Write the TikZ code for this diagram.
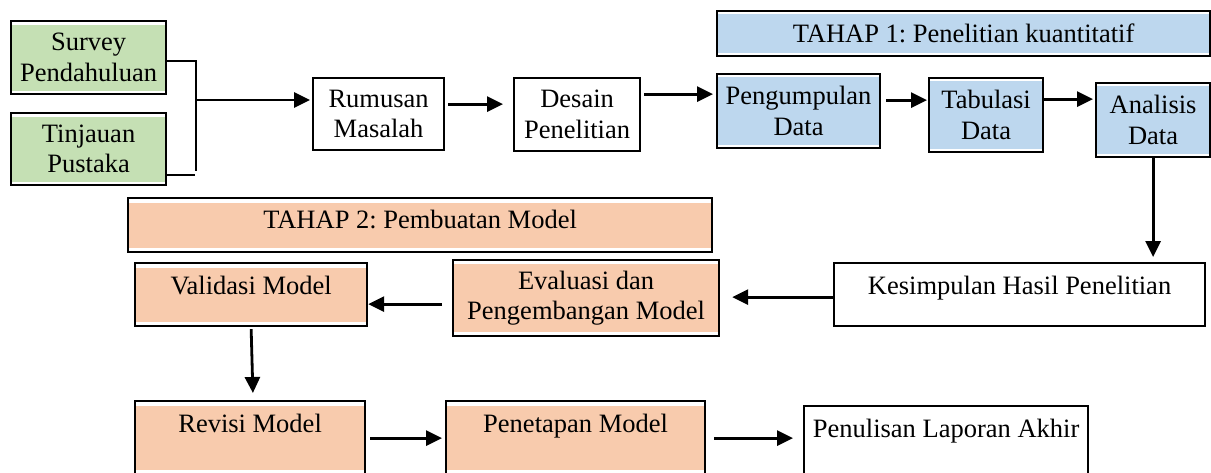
\documentclass[tikz,border=0pt]{standalone}
\usepackage{fontspec}
\setmainfont{Liberation Serif}
\frenchspacing
\usetikzlibrary{arrows.meta,calc}
\definecolor{cgreen}{HTML}{C5E0B4}
\definecolor{cblue}{HTML}{BDD7EE}
\definecolor{corange}{HTML}{F8CBAD}
\begin{document}
\begin{tikzpicture}[x=1pt,y=-1pt,
  box/.style={draw=black, line width=2.2pt, inner sep=2pt, align=center, anchor=north west,
    font=\fontsize{26.5}{30.5}\selectfont},
  fb/.style args={#1/#2}{path picture={\fill[#1] ([yshift=-#2]path picture bounding box.north west) rectangle ([yshift=#2]path picture bounding box.south east);}},
  arr/.style={line width=2.8pt, -{Triangle[length=16pt,width=15pt]}},
  brline/.style={line width=2.4pt},
]
\clip (0,0) rectangle (1211,472);
\fill[white] (0,0) rectangle (1211,472);

% nodes
\node[box, fb=cgreen/3.5pt, minimum width=155pt, minimum height=73pt] (survey) at (10,20) {Survey\\Pendahuluan};
\node[box, fb=cgreen/3.5pt, minimum width=155pt, minimum height=72pt] (tinjauan) at (10,112) {Tinjauan\\Pustaka};
\node[box, minimum width=131pt, minimum height=72pt] (rumusan) at (312,77) {Rumusan\\Masalah};
\node[box, minimum width=126pt, minimum height=73pt] (desain) at (513,77) {Desain\\Penelitian};
\node[box, fb=cblue/3pt, minimum width=163pt, minimum height=74pt] (kumpul) at (716,73) {Pengumpulan\\Data};
\node[box, fb=cblue/3pt, minimum width=114pt, minimum height=74pt] (tabulasi) at (928,77) {Tabulasi\\Data};
\node[box, fb=cblue/3pt, minimum width=114pt, minimum height=74pt] (analisis) at (1095,82) {Analisis\\Data};
\node[box, fb=cblue/3pt, minimum width=493pt, minimum height=45pt] (tahap1) at (716,10) {TAHAP 1: Penelitian kuantitatif};
\node[box, fb=corange/4.5pt, minimum width=584pt, text height=30pt, text depth=24pt, inner ysep=0pt] (tahap2) at (127,197) {TAHAP 2: Pembuatan Model};
\node[box, minimum width=371pt, text height=31pt, text depth=32pt, inner ysep=0pt] (kesimpulan) at (833,262) {Kesimpulan Hasil Penelitian};
\node[box, fb=corange/4pt, minimum width=266pt, minimum height=76pt] (evaluasi) at (452,259) {Evaluasi dan\\Pengembangan Model};
\node[box, fb=corange/4.5pt, minimum width=232pt, text height=31pt, text depth=32pt, inner ysep=0pt] (validasi) at (134,262) {Validasi Model};
\node[box, fb=corange/5pt, minimum width=230pt, text height=31pt, text depth=43pt, inner ysep=0pt] (revisi) at (134,400) {Revisi Model};
\node[box, fb=corange/5pt, minimum width=259pt, text height=31pt, text depth=43pt, inner ysep=0pt] (penetapan) at (445,400) {Penetapan Model};
\node[box, minimum width=284pt, text height=31pt, text depth=38pt, inner ysep=0pt] (penulisan) at (803,405) {Penulisan Laporan Akhir};

% bracket
\coordinate (bt) at (196,60);
\coordinate (bb) at (196,171);
\coordinate (brk) at (196,100);
\draw[brline] ($(survey.east)+(0,3.5)$) -- +(28,0);
\draw[brline] ($(tinjauan.east)+(0,26)$) -- +(28,0);
\draw[brline] (bt) -- (bb);
\draw[arr, shorten >=2pt] (brk) -- (brk -| rumusan.west);

% top row
\coordinate (a2) at ([yshift=10pt]rumusan.east);
\draw[arr, shorten <=3pt, shorten >=10pt] (a2) -- (a2 -| desain.west);
\coordinate (a3) at ([yshift=20.5pt]desain.east);
\draw[arr, shorten <=3pt, shorten >=3pt] (a3) -- (a3 -| kumpul.west);
\coordinate (a4) at ([yshift=11pt]kumpul.east);
\draw[arr, shorten <=5pt, shorten >=1pt] (a4) -- (a4 -| tabulasi.west);
\coordinate (a5) at ([yshift=16pt]tabulasi.east);
\draw[arr, shorten >=2pt] (a5) -- (a5 -| analisis.west);
\draw[arr, shorten >=5pt] (analisis.south) -- (analisis.south |- kesimpulan.north);

% middle row
\coordinate (a7) at ([yshift=-2.5pt]kesimpulan.west);
\draw[arr, shorten >=12pt] (a7) -- (a7 -| evaluasi.east);
\coordinate (a8) at ([yshift=-6pt]evaluasi.west);
\draw[arr, shorten <=10pt] (a8) -- (a8 -| validasi.east);
\draw[arr, shorten <=2pt, shorten >=7pt] (validasi.south) -- ([xshift=3pt]revisi.north);

% bottom row
\draw[arr, shorten <=4pt, shorten >=3pt] (revisi.east) -- (penetapan.west);
\coordinate (a11) at (penetapan.east);
\draw[arr, shorten <=8pt, shorten >=10pt] (a11) -- (a11 -| penulisan.west);
\end{tikzpicture}
\end{document}
